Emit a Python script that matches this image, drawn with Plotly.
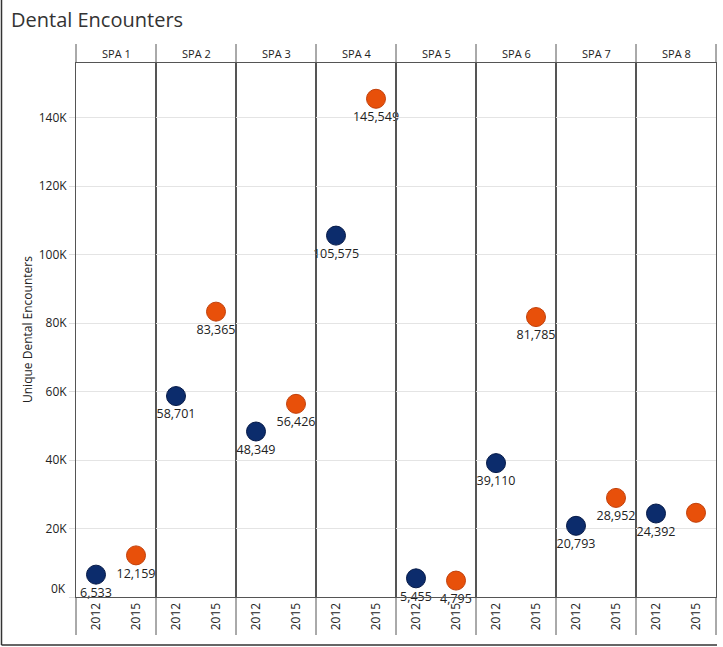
import plotly.graph_objects as go
from plotly.subplots import make_subplots

spas = ["SPA 1", "SPA 2", "SPA 3", "SPA 4", "SPA 5", "SPA 6", "SPA 7", "SPA 8"]
years = ["2012", "2015"]
values_2012 = [6533, 58701, 48349, 105575, 5455, 39110, 20793, 24392]
values_2015 = [12159, 83365, 56426, 145549, 4795, 81785, 28952, 24600]
labels_2015 = ["12,159", "83,365", "56,426", "145,549", "4,795", "81,785", "28,952", ""]
y_ticks = [0, 20000, 40000, 60000, 80000, 100000, 120000, 140000]
y_ticktext = ["", "20K", "40K", "60K", "80K", "100K", "120K", "140K"]

NAVY = "#0c2c6c"
NAVY_LINE = "#061a48"
ORANGE = "#e8500a"
ORANGE_LINE = "#c2400a"
LINE = "#555555"
TXT = "#222222"
FONT = "Open Sans"

W, H = 723, 647
ML, MR, MT, MB = 76, 7, 63, 50
PH = H - MT - MB

fig = make_subplots(rows=1, cols=8, shared_yaxes=True, horizontal_spacing=0)

for i, spa in enumerate(spas):
    c = i + 1
    v12 = values_2012[i]
    v15 = values_2015[i]
    fig.add_trace(go.Scatter(
        x=[years[0]], y=[v12], mode="markers+text",
        text=[f"{v12:,}"], textposition="bottom center",
        textfont=dict(size=12.5, color=TXT, family=FONT),
        marker=dict(size=19, color=NAVY, line=dict(color=NAVY_LINE, width=1)),
        showlegend=False, cliponaxis=False, hoverinfo="y"), row=1, col=c)
    fig.add_trace(go.Scatter(
        x=[years[1]], y=[v15], mode="markers+text",
        text=[labels_2015[i]], textposition="bottom center",
        textfont=dict(size=12.5, color=TXT, family=FONT),
        marker=dict(size=19, color=ORANGE, line=dict(color=ORANGE_LINE, width=1)),
        showlegend=False, cliponaxis=False, hoverinfo="y"), row=1, col=c)
    fig.update_xaxes(type="category", categoryorder="array", categoryarray=years,
                     range=[-0.5, 1.5], tickangle=-90, showgrid=False,
                     showline=True, mirror=True, linecolor=LINE, linewidth=1,
                     ticks="", tickfont=dict(size=12, color=TXT, family=FONT),
                     fixedrange=True, row=1, col=c)
    fig.update_yaxes(range=[0, 156000], showgrid=True, gridcolor="#e4e4e4", gridwidth=1,
                     showline=True, mirror=True, linecolor=LINE, linewidth=1,
                     zeroline=False, fixedrange=True, row=1, col=c)

fig.update_yaxes(tickvals=y_ticks, ticktext=y_ticktext, ticks="outside", ticklen=6,
                 tickcolor="#dddddd", tickfont=dict(size=12, color=TXT, family=FONT),
                 row=1, col=1)

shapes = []
annotations = []
hdr = 19 / PH
below = 38 / PH
bounds = []
for i in range(8):
    ax = fig.layout["xaxis" if i == 0 else f"xaxis{i+1}"]
    d = ax.domain
    bounds.append(d[0])
    annotations.append(dict(x=(d[0] + d[1]) / 2, y=1 + hdr / 2, xref="paper", yref="paper",
                            xanchor="center", yanchor="middle",
                            text=spas[i], showarrow=False,
                            font=dict(size=11, color=TXT, family=FONT)))
bounds.append(1.0)
for b in bounds:
    shapes.append(dict(type="line", xref="paper", yref="paper", x0=b, x1=b,
                       y0=1, y1=1 + hdr, line=dict(color=LINE, width=1)))
    shapes.append(dict(type="line", xref="paper", yref="paper", x0=b, x1=b,
                       y0=0, y1=-below, line=dict(color=LINE, width=1)))

# outer border (left and bottom)
pw = W - ML - MR
xl = (1.5 - ML) / pw
yb = (MT + PH - 645) / PH
shapes.append(dict(type="line", xref="paper", yref="paper", x0=xl, x1=xl,
                   y0=yb, y1=(MT + PH) / PH, line=dict(color="#333333", width=1.5)))
shapes.append(dict(type="line", xref="paper", yref="paper", x0=xl, x1=(717 - ML) / pw,
                   y0=yb, y1=yb, line=dict(color="#333333", width=1.5)))

# 0K label shifted up as in the reference
annotations.append(dict(x=0, y=0, xref="paper", yref="y", xanchor="right", yanchor="middle",
                        xshift=-8, yshift=9, text="0K", showarrow=False,
                        font=dict(size=12, color=TXT, family=FONT)))
# y-axis title
annotations.append(dict(x=(27 - ML) / pw, y=0.5, xref="paper", yref="paper",
                        xanchor="center", yanchor="middle",
                        text="Unique Dental Encounters", textangle=-90, showarrow=False,
                        font=dict(size=12, color=TXT, family=FONT)))

fig.update_layout(
    width=W, height=H,
    margin=dict(l=ML, r=MR, t=MT, b=MB),
    paper_bgcolor="white", plot_bgcolor="white",
    title=dict(text="Dental Encounters", x=11 / W, xanchor="left", y=1 - 20 / H,
               yanchor="middle", font=dict(size=20, color="#333333", family=FONT)),
    shapes=shapes, annotations=annotations,
    font=dict(family=FONT, color=TXT),
)

fig.write_html("out.html", config={"displayModeBar": False},
               post_script="document.body.style.margin='0';document.body.style.overflow='hidden';")
